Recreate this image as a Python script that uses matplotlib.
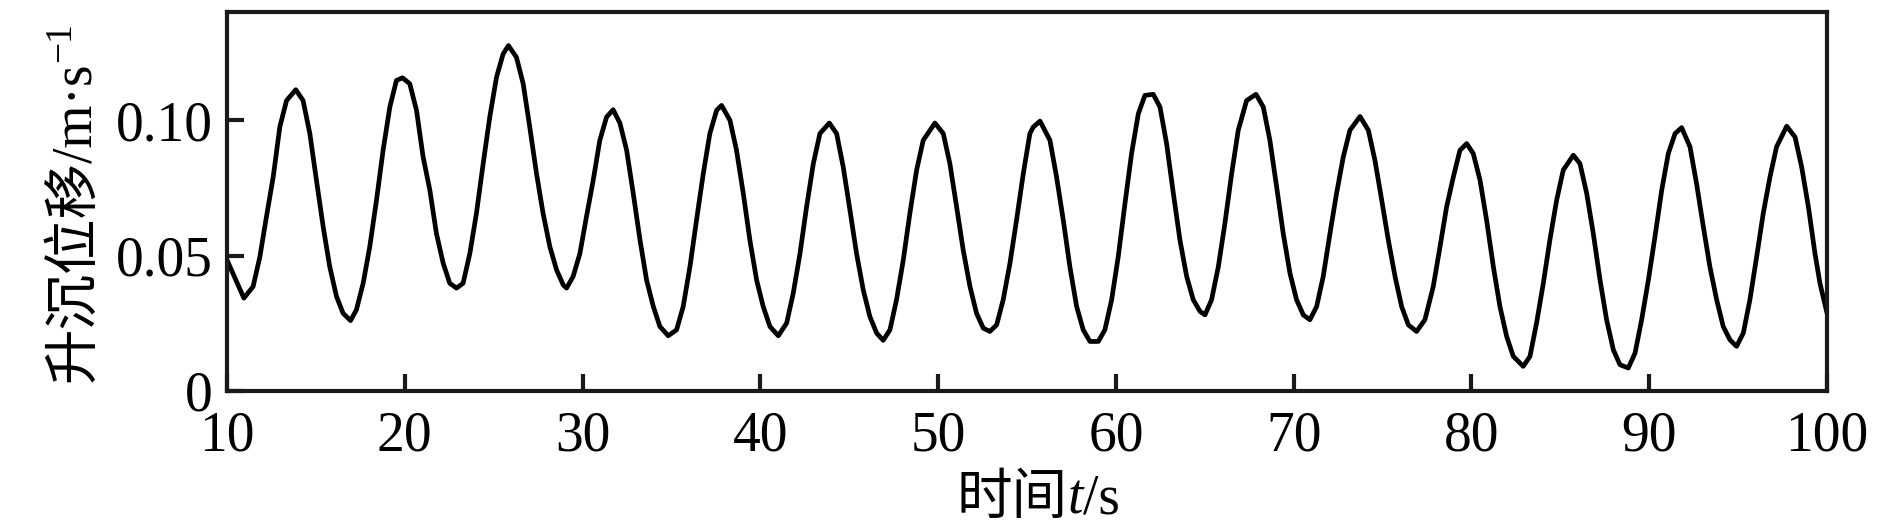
import matplotlib
matplotlib.use("Agg")
import matplotlib.pyplot as plt

plt.rcParams['font.family'] = ['Liberation Serif', 'Noto Sans CJK SC']

# time (s) and heave values
t = [10.0, 10.95, 11.47, 11.85, 12.22, 12.60, 12.97, 13.35, 13.87, 14.28,
     14.66, 15.03, 15.41, 15.78, 16.16, 16.53, 16.95, 17.28, 17.66, 18.03,
     18.41, 18.78, 19.16, 19.53, 19.87, 20.28, 20.66, 21.03, 21.41, 21.78,
     22.16, 22.53, 22.91, 23.28, 23.66, 24.03, 24.41, 24.78, 25.16, 25.53,
     25.83, 26.28, 26.66, 27.03, 27.41, 27.78, 28.16, 28.54, 28.91, 29.10,
     29.47, 29.85, 30.22, 30.60, 30.97, 31.35, 31.72, 32.10, 32.48, 32.85,
     33.23, 33.60, 33.98, 34.35, 34.82, 35.29, 35.66, 36.04, 36.41, 36.79,
     37.16, 37.54, 37.82, 38.29, 38.66, 39.04, 39.41, 39.79, 40.16, 40.54,
     41.01, 41.48, 41.85, 42.23, 42.60, 42.98, 43.35, 43.88, 44.29, 44.66,
     45.04, 45.41, 45.79, 46.16, 46.54, 46.91, 47.29, 47.66, 48.04, 48.41,
     48.79, 49.16, 49.82, 50.29, 50.66, 51.04, 51.41, 51.79, 52.16, 52.54,
     52.91, 53.29, 53.66, 54.04, 54.41, 54.79, 55.16, 55.35, 55.73, 56.29,
     56.66, 57.04, 57.41, 57.79, 58.16, 58.54, 59.01, 59.38, 59.76, 60.13,
     60.51, 60.88, 61.26, 61.63, 62.10, 62.48, 62.85, 63.23, 63.60, 63.98,
     64.35, 64.73, 65.01, 65.38, 65.76, 66.13, 66.51, 66.88, 67.35, 67.88,
     68.29, 68.66, 69.04, 69.41, 69.79, 70.16, 70.54, 70.91, 71.29, 71.66,
     72.04, 72.41, 72.79, 73.16, 73.73, 74.20, 74.57, 74.95, 75.32, 75.70,
     76.07, 76.45, 76.91, 77.38, 77.85, 78.23, 78.60, 78.98, 79.35, 79.73,
     80.10, 80.48, 80.85, 81.23, 81.60, 81.98, 82.35, 82.91, 83.29, 83.66,
     84.04, 84.41, 84.79, 85.16, 85.73, 86.10, 86.48, 86.85, 87.23, 87.60,
     87.98, 88.35, 88.82, 89.20, 89.57, 89.95, 90.32, 90.70, 91.07, 91.45,
     91.82, 92.29, 92.66, 93.04, 93.41, 93.79, 94.16, 94.54, 94.91, 95.29,
     95.66, 96.04, 96.41, 96.79, 97.16, 97.73, 98.20, 98.57, 98.95, 99.32,
     99.60, 100.0]

heave = [0.0484, 0.0343, 0.0386, 0.0496, 0.0644, 0.0791, 0.0975, 0.1073, 0.1113, 0.1073,
         0.0951, 0.0779, 0.0607, 0.0459, 0.0349, 0.0287, 0.0260, 0.0300, 0.0398, 0.0533,
         0.0705, 0.0889, 0.1049, 0.1147, 0.1157, 0.1135, 0.1037, 0.0865, 0.0742, 0.0582,
         0.0472, 0.0398, 0.0380, 0.0398, 0.0508, 0.0656, 0.0840, 0.1012, 0.1159, 0.1245,
         0.1276, 0.1233, 0.1135, 0.0975, 0.0803, 0.0656, 0.0533, 0.0447, 0.0392, 0.0380,
         0.0423, 0.0508, 0.0644, 0.0779, 0.0926, 0.1012, 0.1039, 0.0990, 0.0889, 0.0730,
         0.0558, 0.0410, 0.0312, 0.0238, 0.0204, 0.0226, 0.0312, 0.0459, 0.0631, 0.0803,
         0.0951, 0.1037, 0.1055, 0.1000, 0.0889, 0.0730, 0.0558, 0.0410, 0.0312, 0.0238,
         0.0204, 0.0251, 0.0361, 0.0508, 0.0680, 0.0840, 0.0951, 0.0990, 0.0951, 0.0828,
         0.0668, 0.0508, 0.0373, 0.0275, 0.0214, 0.0187, 0.0226, 0.0337, 0.0484, 0.0656,
         0.0816, 0.0926, 0.0990, 0.0951, 0.0840, 0.0680, 0.0521, 0.0386, 0.0287, 0.0232,
         0.0220, 0.0244, 0.0337, 0.0472, 0.0631, 0.0803, 0.0951, 0.0975, 0.0997, 0.0926,
         0.0791, 0.0631, 0.0459, 0.0312, 0.0226, 0.0183, 0.0183, 0.0226, 0.0337, 0.0496,
         0.0693, 0.0877, 0.1024, 0.1092, 0.1096, 0.1049, 0.0914, 0.0730, 0.0558, 0.0423,
         0.0337, 0.0294, 0.0281, 0.0337, 0.0459, 0.0619, 0.0803, 0.0963, 0.1073, 0.1096,
         0.1049, 0.0926, 0.0754, 0.0582, 0.0435, 0.0337, 0.0281, 0.0263, 0.0312, 0.0423,
         0.0582, 0.0730, 0.0865, 0.0963, 0.1014, 0.0963, 0.0852, 0.0705, 0.0558, 0.0423,
         0.0312, 0.0244, 0.0220, 0.0263, 0.0386, 0.0533, 0.0680, 0.0791, 0.0889, 0.0914,
         0.0877, 0.0779, 0.0631, 0.0459, 0.0312, 0.0201, 0.0128, 0.0091, 0.0128, 0.0251,
         0.0398, 0.0558, 0.0705, 0.0816, 0.0871, 0.0840, 0.0730, 0.0582, 0.0410, 0.0263,
         0.0152, 0.0097, 0.0085, 0.0140, 0.0263, 0.0410, 0.0570, 0.0742, 0.0877, 0.0951,
         0.0973, 0.0902, 0.0766, 0.0607, 0.0459, 0.0337, 0.0238, 0.0189, 0.0165, 0.0214,
         0.0337, 0.0496, 0.0656, 0.0791, 0.0902, 0.0978, 0.0938, 0.0828, 0.0680, 0.0508,
         0.0398, 0.0287]

xticks = [10, 20, 30, 40, 50, 60, 70, 80, 90, 100]
yticks = [0, 0.05, 0.10]
ytick_labels = ['0', '0.05', '0.10']

fig = plt.figure(figsize=(18.9, 5.27), dpi=100)
ax = fig.add_axes([0.1201, 0.2581, 0.8466, 0.7191])

ax.plot(t, heave, color='black', linewidth=3.4, solid_joinstyle='round')

ax.set_xlim(10, 100)
ax.set_ylim(0, 0.14)
ax.set_xticks(xticks)
ax.set_yticks(yticks)
ax.set_yticklabels(ytick_labels)

for s in ax.spines.values():
    s.set_linewidth(3.0)
    s.set_color('#1a1a1a')

ax.tick_params(direction='in', length=12, width=3, labelsize=40, pad=10,
               color='#1a1a1a')
ax.tick_params(axis='x', pad=14)

# axis titles are built from pieces so CJK, italic t and the superscript
# each get their own font
fig.canvas.draw()
rend = fig.canvas.get_renderer()
W, H = fig.bbox.width, fig.bbox.height


def piece(s, rot, size=40, **kw):
    return fig.text(0, 0, s, rotation=rot, rotation_mode='anchor',
                    ha='left', va='baseline', fontsize=size, **kw)


# x label: 时间 t/s
xparts = [piece('时间', 0), piece('t', 0, style='italic'), piece('/s', 0)]
widths = [p.get_window_extent(rend).width for p in xparts]
x = 1038 - sum(widths) / 2
for p, w in zip(xparts, widths):
    p.set_position((x / W, 13 / H))
    x += w

# y label: 升沉位移/m·s^-1
ymain = piece('升沉位移/m·s', 90)
ysup = piece('−1', 90, size=27)
l1 = ymain.get_window_extent(rend).height
l2 = ysup.get_window_extent(rend).height
y0 = 325 - (l1 + l2) / 2
ymain.set_position((90 / W, y0 / H))
ysup.set_position((70 / W, (y0 + l1) / H))

fig.savefig('out.png', dpi=100)
